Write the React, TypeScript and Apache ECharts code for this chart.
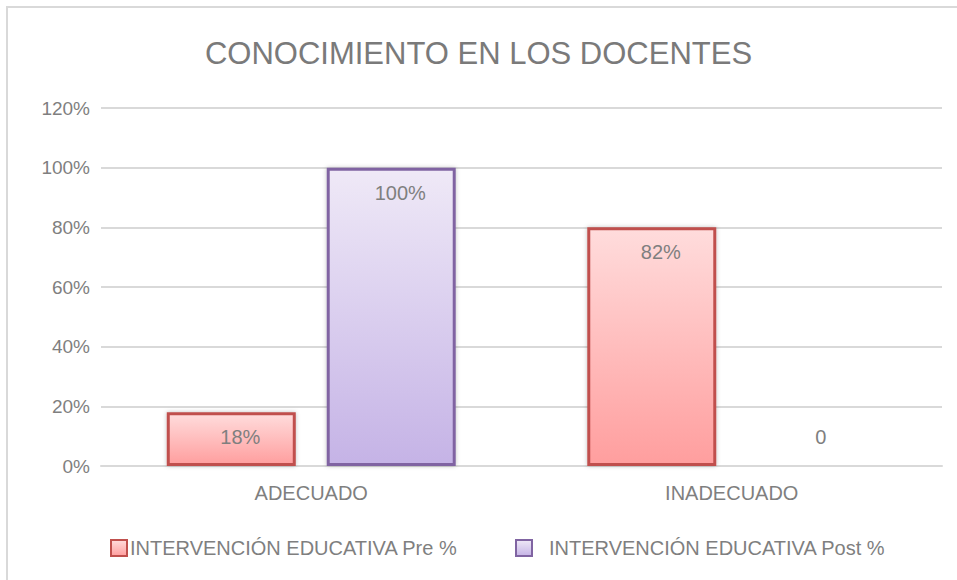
import React, { useEffect, useRef } from "react";
import * as echarts from "echarts";

const title = "CONOCIMIENTO EN LOS DOCENTES";
const categories = ["ADECUADO", "INADECUADO"];
const seriesNames = ["INTERVENCIÓN EDUCATIVA Pre %", "INTERVENCIÓN EDUCATIVA Post %"];
const preValues = [18, 80];
const postValues = [100, 0];
const preLabels = ["18%", "82%"];
const postLabels = ["100%", "0"];

const FONT = "'Liberation Sans', Arial, sans-serif";
const GREY = "#7f7f7f";

function makeData(values: number[], labels: string[], border: string) {
  return values.map((v, i) => ({
    value: v,
    label: {
      show: true,
      position: v === 0 ? "top" : "insideTop",
      distance: v === 0 ? 19 : 15,
      offset: [9, 0],
      formatter: () => labels[i],
    },
    itemStyle: v === 0 ? { borderWidth: 0, shadowBlur: 0 } : { borderColor: border },
  }));
}

export default function App() {
  const ref = useRef<HTMLDivElement>(null);
  useEffect(() => {
    if (!ref.current) return;
    const chart = echarts.init(ref.current, undefined, { renderer: "svg" });
    const preGrad = new echarts.graphic.LinearGradient(0, 0, 0, 1, [
      { offset: 0, color: "#ffdcdc" },
      { offset: 1, color: "#ff9e9e" },
    ]);
    const postGrad = new echarts.graphic.LinearGradient(0, 0, 0, 1, [
      { offset: 0, color: "#efe9f7" },
      { offset: 1, color: "#c5b3e6" },
    ]);
    chart.setOption({
      animation: false,
      backgroundColor: "#ffffff",
      title: {
        text: title,
        left: "center",
        top: 33,
        textStyle: { fontFamily: FONT, fontSize: 31, fontWeight: "normal", color: "#7a7a7a" },
      },
      graphic: [
        {
          type: "rect",
          shape: { x: 7, y: 7, width: 970, height: 600 },
          style: { fill: "none", stroke: "#d9d9d9", lineWidth: 2 },
          silent: true,
        },
      ],
      legend: [
        {
          data: [seriesNames[0]],
          left: 105,
          top: 533,
          icon: "rect",
          itemWidth: 16,
          itemHeight: 16,
          textStyle: { fontFamily: FONT, fontSize: 20, color: GREY, padding: [0, 0, 0, -2] },
        },
        {
          data: [seriesNames[1]],
          left: 510,
          top: 533,
          icon: "rect",
          itemWidth: 16,
          itemHeight: 16,
          textStyle: { fontFamily: FONT, fontSize: 20, color: GREY, padding: [0, 0, 0, 12] },
        },
      ],
      grid: { left: 101, right: 15, top: 108, bottom: 114, containLabel: false },
      xAxis: {
        type: "category",
        data: categories,
        axisLine: { show: true, lineStyle: { color: "#d9d9d9", width: 2 } },
        axisTick: { show: false },
        axisLabel: { fontFamily: FONT, fontSize: 20, color: GREY, margin: 17 },
      },
      yAxis: {
        type: "value",
        min: 0,
        max: 120,
        interval: 20,
        axisLine: { show: false },
        axisTick: { show: false },
        axisLabel: { formatter: "{value}%", fontFamily: FONT, fontSize: 19, color: GREY, margin: 11 },
        splitLine: { lineStyle: { color: "#d9d9d9", width: 2 } },
      },
      series: [
        {
          name: seriesNames[0],
          type: "bar",
          barWidth: 129,
          barGap: "24%",
          data: makeData(preValues, preLabels, "#c0504d"),
          itemStyle: {
            color: preGrad,
            borderColor: "#c0504d",
            borderWidth: 3,
            shadowBlur: 4,
            shadowColor: "rgba(0,0,0,0.25)",
          },
          label: { fontFamily: FONT, fontSize: 20, color: GREY },
        },
        {
          name: seriesNames[1],
          type: "bar",
          barWidth: 129,
          barGap: "24%",
          data: makeData(postValues, postLabels, "#8064a2"),
          itemStyle: {
            color: postGrad,
            borderColor: "#8064a2",
            borderWidth: 3,
            shadowBlur: 4,
            shadowColor: "rgba(0,0,0,0.25)",
          },
          label: { fontFamily: FONT, fontSize: 20, color: GREY },
        },
      ],
    });
    return () => chart.dispose();
  }, []);
  return (
    <div
      ref={ref}
      style={{ position: "absolute", left: 0, top: 0, width: 957, height: 580 }}
    />
  );
}
